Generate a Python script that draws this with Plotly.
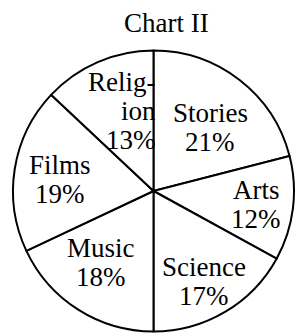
import plotly.graph_objects as go

categories = ["Stories", "Arts", "Science", "Music", "Films", "Religion"]
values = [21, 12, 17, 18, 19, 13]
title_text = "Chart II"

W, H = 296, 334
FONT = "Liberation Serif, Times New Roman, serif"

# label placement (pixel centres of first line) -- layout only
label_pos = {
    "Stories": (210, 113),
    "Arts": (256, 190),
    "Science": (204, 267),
    "Music": (101, 248),
    "Films": (60, 165),
    "Religion": (122, 82),
}
LINE_GAP = 29

fig = go.Figure()
fig.add_trace(go.Pie(
    labels=categories,
    values=values,
    sort=False,
    direction="clockwise",
    rotation=0,
    textinfo="none",
    hoverinfo="label+percent",
    marker=dict(colors=["white"] * len(values), line=dict(color="black", width=2)),
    domain=dict(x=[13 / W, 294 / W], y=[1 - 332 / H, 1 - 50 / H]),
    showlegend=False,
))

annotations = []
for cat, val in zip(categories, values):
    x, y = label_pos[cat]
    if cat == "Religion":
        lines = ["Relig-", "ion", f"{val}%"]
        xs = [x, x + 16, x + 9]
    else:
        lines = [cat, f"{val}%"]
        xs = [x, x]
    for i, (t, xx) in enumerate(zip(lines, xs)):
        annotations.append(dict(
            x=xx / W, y=1 - (y + i * LINE_GAP) / H, xref="paper", yref="paper",
            text=t, showarrow=False, xanchor="center", yanchor="middle",
            font=dict(family=FONT, size=27, color="black"),
        ))

annotations.append(dict(
    x=166 / W, y=1 - 23 / H, xref="paper", yref="paper", text=title_text,
    showarrow=False, xanchor="center", yanchor="middle",
    font=dict(family=FONT, size=27, color="black"),
))

fig.update_layout(
    width=W, height=H,
    margin=dict(l=0, r=0, t=0, b=0),
    paper_bgcolor="white", plot_bgcolor="white",
    annotations=annotations,
)

fig.write_html(
    "out.html",
    config={"displayModeBar": False},
    post_script="document.body.style.margin='0px';document.body.style.overflow='hidden';",
)
